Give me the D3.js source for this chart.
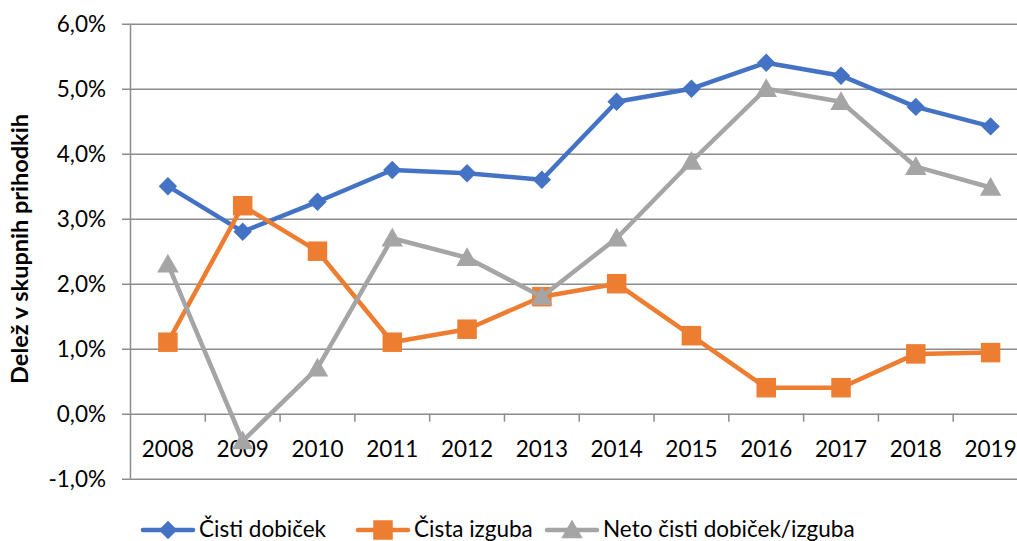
<!DOCTYPE html>
<html lang="sl">
<head>
<meta charset="UTF-8">
<title>Delež v skupnih prihodkih</title>
<script src="https://d3js.org/d3.v7.min.js"></script>
<style>
    body { margin: 0; background: #fff; overflow: hidden; }
    text { font-family: Lato, "Open Sans", sans-serif; fill: #000; }
</style>
</head>
<body>
<script>
// Data
const years = ["2008", "2009", "2010", "2011", "2012", "2013", "2014", "2015", "2016", "2017", "2018", "2019"];
const cistiDobicek = [3.5, 2.8, 3.26, 3.75, 3.7, 3.6, 4.8, 5.0, 5.4, 5.2, 4.72, 4.42];
const cistaIzguba = [1.1, 3.2, 2.5, 1.1, 1.3, 1.8, 2.0, 1.2, 0.4, 0.4, 0.92, 0.94];
const netoDobicek = [2.3, -0.42, 0.7, 2.7, 2.4, 1.8, 2.7, 3.88, 5.0, 4.8, 3.8, 3.48];
const yTicks = [-1, 0, 1, 2, 3, 4, 5, 6];

const series = [
    { name: "Čisti dobiček", values: cistiDobicek, color: "#4472C4", marker: "diamond" },
    { name: "Čista izguba", values: cistaIzguba, color: "#ED7D31", marker: "square" },
    { name: "Neto čisti dobiček/izguba", values: netoDobicek, color: "#A5A5A5", marker: "triangle" }
];

const width = 1017, height = 541;
const svg = d3.select("body").append("svg").attr("width", width).attr("height", height);

// Scales
const x = d3.scaleBand().domain(years).range([130.5, 1028]);
const y = d3.scaleLinear().domain([-1, 6]).range([478.7, 23.7]);

// comma decimal, plain hyphen for negatives
const fmt = v => d3.format(".1f")(v).replace(".", ",").replace("\u2212", "-") + "%";

// Gridlines + y labels
const yAxis = d3.axisLeft(y).tickValues(yTicks).tickFormat(fmt).tickSize(-(1028 - 122)).tickPadding(16);
svg.append("g")
    .attr("transform", "translate(122,0)")
    .call(yAxis)
    .call(g => g.select(".domain").remove())
    .call(g => g.selectAll("line").attr("stroke", "#8c8c8c").attr("stroke-width", 1.5))
    .call(g => g.selectAll("text").attr("font-size", 22.5).attr("dy", "0.36em"));

// Vertical axis line
svg.append("line")
    .attr("x1", 130.5).attr("x2", 130.5)
    .attr("y1", y(6)).attr("y2", y(-1))
    .attr("stroke", "#8c8c8c").attr("stroke-width", 1.5);

// Category axis at zero
const xAxis = d3.axisBottom(x).tickSize(0).tickPadding(27);
svg.append("g")
    .attr("transform", `translate(0,${y(0)})`)
    .call(xAxis)
    .call(g => g.select(".domain").remove())
    .call(g => g.selectAll("text").attr("font-size", 22.5));

// Tick marks between categories
svg.append("g").selectAll("line")
    .data(years.slice(1))
    .join("line")
    .attr("x1", d => x(d)).attr("x2", d => x(d))
    .attr("y1", y(0)).attr("y2", y(0) + 8)
    .attr("stroke", "#8c8c8c").attr("stroke-width", 1.5);

const symbols = {
    diamond: d3.symbol().type(d3.symbolSquare).size(170),
    square: d3.symbol().type(d3.symbolSquare).size(380),
    triangle: d3.symbol().type(d3.symbolTriangle).size(200)
};

function drawMarker(g, s, cx, cy) {
    const p = g.append("path")
        .attr("d", symbols[s.marker]())
        .attr("fill", s.color);
    if (s.marker === "diamond") p.attr("transform", `translate(${cx},${cy}) rotate(45)`);
    else if (s.marker === "triangle") p.attr("transform", `translate(${cx},${cy + 2})`);
    else p.attr("transform", `translate(${cx},${cy})`);
}

const line = d3.line()
    .x((d, i) => x(years[i]) + x.bandwidth() / 2)
    .y(d => y(d));

series.forEach(s => {
    const g = svg.append("g");
    g.append("path")
        .attr("d", line(s.values))
        .attr("fill", "none")
        .attr("stroke", s.color)
        .attr("stroke-width", 4.5)
        .attr("stroke-linejoin", "round");
    s.values.forEach((v, i) => drawMarker(g, s, x(years[i]) + x.bandwidth() / 2, y(v)));
});

// Y axis title
svg.append("text")
    .attr("transform", "translate(28,249) rotate(-90)")
    .attr("text-anchor", "middle")
    .attr("font-size", 23.5)
    .attr("font-weight", "bold")
    .text("Delež v skupnih prihodkih");

// Legend
const legendX = [143, 358, 547];
series.forEach((s, i) => {
    const g = svg.append("g").attr("transform", `translate(${legendX[i]},530)`);
    g.append("line")
        .attr("x1", 0).attr("x2", 50)
        .attr("stroke", s.color).attr("stroke-width", 4.5).attr("stroke-linecap", "round");
    drawMarker(g, s, 25, 0);
    g.append("text")
        .attr("x", 56).attr("y", 7)
        .attr("font-size", 22.5)
        .text(s.name);
});
</script>
</body>
</html>
